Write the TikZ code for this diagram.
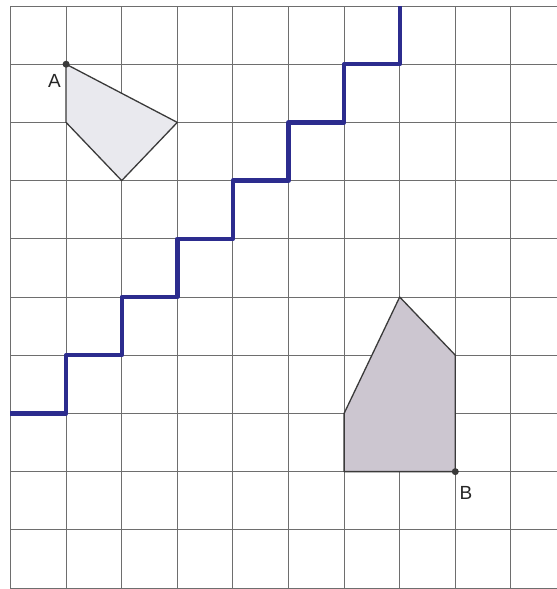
\documentclass[tikz,border=0pt]{standalone}
\usepackage{fontspec}
\setmainfont{Liberation Sans}
\definecolor{gridc}{HTML}{6E6E6E}
\definecolor{fillA}{HTML}{E9E9EE}
\definecolor{fillB}{HTML}{CCC6D0}
\definecolor{stairc}{HTML}{2C2C8E}
\definecolor{edgec}{HTML}{3A3A3A}
\begin{document}
\begin{tikzpicture}[x=55.6pt,y=-58.2pt,
  gridline/.style={draw=gridc,line width=0.9pt},
  polyedge/.style={draw=edgec,line width=1.3pt,line join=round},
  stair/.style={draw=stairc,line width=4.4pt,line join=round},
  dotpt/.style={circle,fill=edgec,inner sep=0pt,minimum size=7pt},
  lab/.style={font=\fontsize{19}{19}\selectfont,text=black!85,inner sep=0pt}]
\useasboundingbox (-0.1888,-0.1031) rectangle (9.829,10.017);
\fill[white] (-0.1888,-0.1031) rectangle (9.829,10.017);
% grid
\foreach \i in {0,...,9} \draw[gridline] (\i,0) -- (\i,10);
\foreach \j in {0,...,10} \draw[gridline] (0,\j) -- (9.829,\j);
% polygons (cover the grid)
\draw[polyedge,fill=fillA] (1,1) -- (3,2) -- (2,3) -- (1,2) -- cycle;
\draw[polyedge,fill=fillB] (7,5) -- (8,6) -- (8,8) -- (6,8) -- (6,7) -- cycle;
% staircase
\draw[stair] (0,7) -- (1,7) -- (1,6) -- (2,6) -- (2,5) -- (3,5) -- (3,4) -- (4,4)
  -- (4,3) -- (5,3) -- (5,2) -- (6,2) -- (6,1) -- (7,1) -- (7,0);
% points
\node[dotpt] (A) at (1,1) {};
\node[dotpt] (B) at (8,8) {};
\node[lab] (labA) at (0.791,1.289) {A};
\node[lab] (labB) at (8.192,8.359) {B};
\end{tikzpicture}
\end{document}
